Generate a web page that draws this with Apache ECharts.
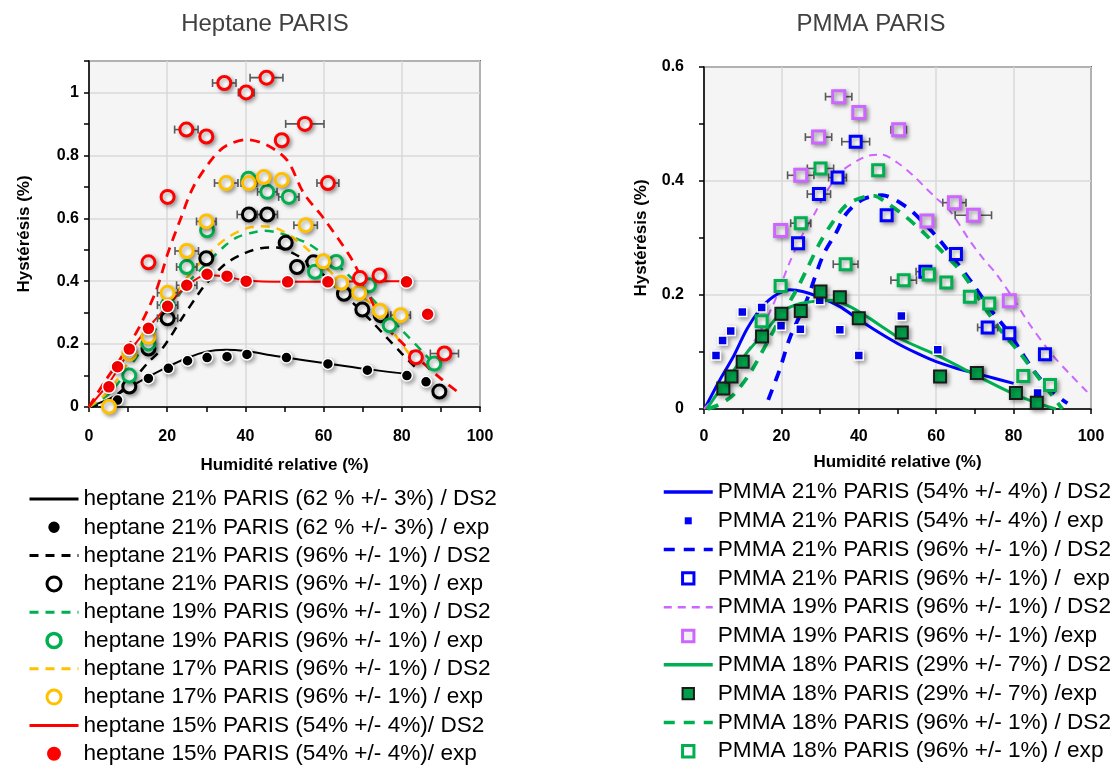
<!DOCTYPE html>
<html><head><meta charset="utf-8">
<script src="https://cdn.jsdelivr.net/npm/echarts@6/dist/echarts.min.js"></script>
<style>html,body{margin:0;padding:0;background:#fff}#c{width:1114px;height:770px}</style>
</head><body><div id="c"></div>
<script>
// ---------- Heptane PARIS (left) ----------
const hep21_62_ds2 = [[0,0],[5,0.025],[8,0.045],[10,0.06],[15,0.095],[20,0.127],[25,0.155],[30,0.176],[35,0.182],[40,0.178],[45,0.168],[50,0.158],[60,0.14],[70,0.122],[81.5,0.105]];
const hep21_62_exp = [[7.3,0.022,0],[15.2,0.091,0],[20.3,0.123,0],[25.2,0.147,0],[30.2,0.157,0],[35.3,0.16,0],[40.4,0.167,0],[50.5,0.157,0],[61.1,0.137,0],[71.2,0.117,0],[81.3,0.10,0],[86.2,0.08,0]];
const hep21_96_ds2 = [[0,0],[5,0.02],[10,0.07],[12,0.096],[15,0.14],[19,0.19],[24,0.286],[28,0.36],[30,0.393],[35,0.456],[40,0.49],[44,0.505],[48,0.507],[52,0.49],[56,0.46],[60,0.42],[64,0.37],[68,0.325],[72,0.276],[76,0.223],[80,0.17],[83.3,0.128]];
const hep21_96_exp = [[10.3,0.065,0],[15.2,0.186,0],[20.1,0.282,2.6],[30,0.473,0],[40.9,0.612,3],[45.6,0.612,2.6],[50.3,0.522,0],[53.2,0.445,0],[57.4,0.46,0],[65.2,0.36,0],[69.9,0.31,0],[74.6,0.292,0],[89.6,0.049,0]];
const hep19_96_ds2 = [[0,0],[5,0.04],[10,0.12],[15,0.21],[20,0.3],[25,0.39],[30,0.455],[35,0.515],[38,0.54],[42,0.555],[45,0.56],[49,0.552],[53,0.535],[56,0.52],[60,0.485],[65,0.435],[70,0.375],[75,0.31],[80,0.245],[85,0.18],[88,0.14]];
const hep19_96_exp = [[10.3,0.10,0],[15.2,0.202,0],[20.1,0.324,2.6],[25,0.445,2.6],[30.2,0.562,0],[40.8,0.726,0],[45.6,0.684,2.5],[51.1,0.668,2.6],[57.8,0.43,0],[63.2,0.461,0],[71.6,0.387,0],[76.9,0.26,0],[88.3,0.138,0]];
const hep17_96_ds2 = [[0,0],[5,0.05],[10,0.14],[15,0.23],[20,0.32],[25,0.41],[30,0.48],[35,0.535],[40,0.567],[44,0.575],[48,0.568],[52,0.54],[56,0.5],[60,0.45],[64,0.405],[68,0.365],[72,0.33],[76,0.27],[80,0.2],[84,0.135]];
const hep17_96_exp = [[5.1,0.001,0],[10.3,0.17,0],[15.2,0.223,0],[20.1,0.363,2.6],[25,0.496,3],[30,0.59,2.5],[35.1,0.712,3],[40.9,0.712,2],[44.7,0.731,0],[49.3,0.722,0],[55.4,0.578,3],[59.9,0.463,0],[64.5,0.395,0],[69.1,0.363,0],[74.4,0.306,0],[79.7,0.292,2.5]];
const hep15_54_ds2 = [[0,0],[5,0.075],[10,0.17],[15,0.25],[20,0.32],[25,0.385],[30,0.42],[35,0.415],[40,0.402],[50,0.398],[60,0.398],[70,0.40],[81.5,0.40]];
const hep15_54_exp = [[5.1,0.064,0],[7.3,0.128,0],[10.3,0.184,0],[15.2,0.25,0],[20.1,0.32,0],[25,0.387,2.6],[30.2,0.422,0],[35.3,0.416,0],[40.2,0.4,0],[50.8,0.398,0],[61.1,0.398,0],[81.2,0.398,0],[86.6,0.295,0]];
const hep15_96_ds2 = [[0,0],[4,0.08],[7.8,0.149],[12.9,0.255],[17.2,0.371],[20.2,0.49],[23.3,0.594],[26.7,0.70],[31.9,0.795],[35.3,0.832],[40.4,0.85],[45.6,0.832],[50.7,0.784],[54.9,0.68],[60,0.60],[66.9,0.476],[70,0.40],[75.2,0.267],[80,0.205],[85,0.145],[90,0.09],[94.4,0.047]];
const hep15_96_exp = [[15.2,0.46,0],[20.1,0.668,0],[24.9,0.882,3],[30,0.86,0],[34.6,1.03,3],[40.2,1.0,2],[45.4,1.047,4.2],[49.3,0.848,0],[55.2,0.90,4.9],[61.1,0.712,2.8],[69.3,0.41,0],[74.3,0.418,0],[83.6,0.158,0],[90.9,0.17,3.6]];

// ---------- PMMA PARIS (right) ----------
const pm21_54_ds2 = [[0.5,0.005],[4.1,0.051],[7.6,0.092],[11,0.139],[14.4,0.174],[17.9,0.197],[22.2,0.209],[25.5,0.206],[30,0.196],[35,0.18],[40,0.157],[45,0.135],[50,0.115],[55,0.098],[60,0.083],[65,0.072],[70,0.063],[75,0.054],[80,0.045]];
const pm21_54_exp = [[3.1,0.094,0],[4.8,0.12,0],[6.9,0.137,0],[9.9,0.17,0],[14.9,0.178,0],[19.9,0.146,0],[24.9,0.14,0],[29.9,0.191,0],[35.1,0.139,0],[40,0.094,0],[51,0.163,0],[60.4,0.104,0],[70.7,0.067,0],[86.2,0.028,0]];
const pm21_96_ds2 = [[16.6,0.016],[19.6,0.07],[22.2,0.125],[26.5,0.19],[30.8,0.27],[34.2,0.31],[36.8,0.343],[41.1,0.368],[46,0.375],[52.2,0.355],[57,0.325],[61.3,0.293],[65,0.26],[69.4,0.22],[74,0.175],[78.9,0.133],[82,0.1],[85.7,0.063],[90,0.03],[93.9,0.01]];
const pm21_96_exp = [[24.3,0.291,0],[29.7,0.377,3],[34.5,0.406,2.3],[39.2,0.469,3.6],[47.2,0.34,0],[57.2,0.241,2.4],[65.1,0.272,0],[73.3,0.143,2.6],[78.9,0.133,0],[88.1,0.096,0]];
const pm19_96_ds2 = [[0,0],[5,0.04],[10,0.09],[14,0.13],[18,0.185],[22,0.255],[25,0.3],[28.6,0.343],[32,0.385],[35.9,0.419],[40,0.437],[43,0.445],[46,0.446],[50,0.432],[54,0.41],[57.4,0.387],[60,0.37],[63.4,0.349],[68.6,0.296],[72,0.265],[75.4,0.238],[80,0.193],[84,0.15],[90,0.095],[95,0.058],[99,0.03]];
const pm19_96_exp = [[19.8,0.313,0],[25,0.41,3.4],[29.6,0.477,3.4],[34.8,0.548,3.4],[40,0.52,0],[50.3,0.49,2],[57.6,0.33,0],[64.7,0.362,3],[69.6,0.34,4.7],[78.9,0.19,1.5]];
const pm18_29_ds2 = [[0.7,0],[5.9,0.051],[11,0.098],[16.2,0.139],[20.4,0.172],[25,0.185],[30,0.19],[33,0.191],[37.6,0.18],[42.8,0.159],[47,0.14],[51.4,0.121],[60,0.095],[68.6,0.065],[78.9,0.03],[85,0.013],[90.9,0]];
const pm18_29_exp = [[5,0.036,0],[7.1,0.057,0],[10,0.083,0],[15,0.127,0],[20,0.167,0],[25,0.172,0],[30.1,0.206,0],[35.1,0.196,0],[40,0.159,0],[51.1,0.134,0],[61,0.057,0],[70.5,0.063,0],[80.6,0.028,0],[86,0.011,0]];
const pm18_96_ds2 = [[1,0],[4,0.008],[7.6,0.025],[11.9,0.063],[16.2,0.115],[20.4,0.168],[23.9,0.209],[26.5,0.244],[29.9,0.291],[32.5,0.32],[36.8,0.358],[41.9,0.373],[44,0.374],[47.1,0.362],[52.2,0.337],[57.4,0.305],[61,0.28],[66.8,0.238],[72.9,0.174],[77,0.135],[81.4,0.1],[87,0.05],[92.6,0]];
const pm18_96_exp = [[14.9,0.154,0],[19.8,0.216,0],[25,0.326,2.6],[30.1,0.422,3.4],[36.6,0.254,3.2],[45,0.419,0],[51.6,0.226,3.3],[58.1,0.236,0],[62.6,0.222,0],[68.7,0.197,0],[73.7,0.185,0],[82.5,0.058,0],[89.4,0.042,0]];

const leftTitle = 'Heptane PARIS', rightTitle = 'PMMA PARIS';
const yName = 'Hystérésis (%)', xName = 'Humidité relative (%)';

const leftNames = [
 'heptane 21% PARIS (62 % +/- 3%) / DS2','heptane 21% PARIS (62 % +/- 3%) / exp',
 'heptane 21% PARIS (96% +/- 1%) / DS2','heptane 21% PARIS (96% +/- 1%) / exp',
 'heptane 19% PARIS (96% +/- 1%) / DS2','heptane 19% PARIS (96% +/- 1%) / exp',
 'heptane 17% PARIS (96% +/- 1%) / DS2','heptane 17% PARIS (96% +/- 1%) / exp',
 'heptane 15% PARIS (54% +/- 4%)/ DS2','heptane 15% PARIS (54% +/- 4%)/ exp'];
const rightNames = [
 'PMMA 21% PARIS (54% +/- 4%) / DS2','PMMA 21% PARIS (54% +/- 4%) / exp',
 'PMMA 21% PARIS (96% +/- 1%) / DS2','PMMA 21% PARIS (96% +/- 1%) /  exp',
 'PMMA 19% PARIS (96% +/- 1%) / DS2','PMMA 19% PARIS (96% +/- 1%) /exp',
 'PMMA 18% PARIS (29% +/- 7%) / DS2','PMMA 18% PARIS (29% +/- 7%) /exp',
 'PMMA 18% PARIS (96% +/- 1%) / DS2','PMMA 18% PARIS (96% +/- 1%) / exp'];

const FONT = "'Liberation Sans', Arial, sans-serif";
const shadow = {shadowBlur:4, shadowColor:'rgba(0,0,0,0.35)', shadowOffsetX:2, shadowOffsetY:2};

function lineS(name, data, gi, color, width, dash){
  return {type:'line', name, data, xAxisIndex:gi, yAxisIndex: gi===0?0:2, symbol:'none', smooth:0.3,
    lineStyle:{color, width, type: dash||'solid'}, itemStyle:{color}, z:2, silent:true};
}
function scatS(name, data, gi, symbol, size, fill, border, bw){
  return {type:'scatter', name, data, xAxisIndex:gi, yAxisIndex: gi===0?0:2, symbol, symbolSize:size, symbolKeepAspect:true,
    encode:{x:0,y:1}, itemStyle:Object.assign({color:fill, borderColor:border, borderWidth:bw, opacity:1}, shadow), z:4, silent:true};
}
function errRender(params, api){
  const x=api.value(0), y=api.value(1), e=api.value(2);
  if(!e) return null;
  const a=api.coord([x-e,y]), b=api.coord([x+e,y]);
  const st={stroke:'#5a5a5a', lineWidth:1.6};
  return {type:'group', children:[
    {type:'line', shape:{x1:a[0],y1:a[1],x2:b[0],y2:b[1]}, style:st},
    {type:'line', shape:{x1:a[0],y1:a[1]-4,x2:a[0],y2:a[1]+4}, style:st},
    {type:'line', shape:{x1:b[0],y1:b[1]-4,x2:b[0],y2:b[1]+4}, style:st}]};
}
function errS(gi, arrays){
  const d=[]; arrays.forEach(a=>a.forEach(p=>{ if(p[2]>0) d.push(p); }));
  return {type:'custom', name:'err'+gi, data:d, xAxisIndex:gi, yAxisIndex: gi===0?0:2, renderItem:errRender, encode:{x:0,y:1}, z:3, silent:true};
}
const hideSym = {color:'rgba(0,0,0,0)', borderColor:'rgba(0,0,0,0)', borderWidth:0, opacity:0};
const smallSquare = 'path://M0,0M16,16M4,4L12,4L12,12L4,12Z';
const bigSquare = 'path://M0,0M16,16M1.5,1.5L14.5,1.5L14.5,14.5L1.5,14.5Z';
const smallCircle = 'path://M0,0M16,16M8,1.5A6.5,6.5,0,1,1,7.99,1.5Z';
// legend icon settings per exp entry: [icon, borderWidth]; line widths per DS2 entry
function legendData(names, iconSpec, lineW){
  return names.map((n,i)=>{
    if(i%2===0) return {name:n, itemStyle:hideSym, lineStyle:{width:lineW[i/2]}};
    const s = iconSpec[(i-1)/2] || [null,null];
    const o = {name:n};
    if(s[0]) o.icon = s[0];
    if(s[1]!=null) o.itemStyle = {borderWidth:s[1]};
    return o;
  });
}

const axLabel = {fontFamily:FONT, fontWeight:'bold', fontSize:16, color:'#000'};
const axName = {fontFamily:FONT, fontWeight:'bold', fontSize:17, color:'#000'};
const axLine = {show:true, lineStyle:{color:'#000', width:1.5}};
const tickSt = {show:true, length:5, inside:false, lineStyle:{color:'#000', width:1.5}};
const split = {show:true, lineStyle:{color:'#d9d9d9', width:1.5}};

function xAx(gi, gap, margin){
  return {type:'value', gridIndex:gi, min:0, max:100, interval:20, name:xName, nameLocation:'middle', nameGap:gap,
    nameTextStyle:axName, axisLine:axLine, axisTick:tickSt, minorTick:{show:true, splitNumber:2, length:5, lineStyle:{color:'#000', width:1.5}},
    axisLabel:Object.assign({margin}, axLabel), splitLine:split, minorSplitLine:{show:false}};
}
const legendText = {fontFamily:FONT, fontSize:22.6, color:'#000', lineHeight:24};
const legendNoShadow = {shadowBlur:0, shadowColor:'rgba(0,0,0,0)', shadowOffsetX:0, shadowOffsetY:0};

const option = {
  animation:false,
  backgroundColor:'#fff',
  title:[
    {text:leftTitle, left:260, top:7, textAlign:'center', textStyle:{fontFamily:FONT, fontWeight:'normal', fontSize:24, color:'#404040'}},
    {text:rightTitle, left:866, top:7, textAlign:'center', textStyle:{fontFamily:FONT, fontWeight:'normal', fontSize:24, color:'#404040'}}
  ],
  grid:[
    {left:89, right:634, top:61, bottom:363, show:true, backgroundColor:'#f5f5f5', borderColor:'#000', borderWidth:1.5},
    {left:704, right:23, top:67, bottom:361, show:true, backgroundColor:'#f5f5f5', borderColor:'#000', borderWidth:1.5}
  ],
  xAxis:[xAx(0,50,22), xAx(1,45,20)],
  yAxis:[
    {type:'value', gridIndex:0, min:0, max:1.1, interval:0.1, name:yName, nameLocation:'middle', nameGap:56,
      nameTextStyle:axName, axisLine:axLine, axisTick:tickSt,
      axisLabel:Object.assign({margin:10, formatter:v=>{const k=Math.round(v*10); return (k%2===0)? String(k/10):'';}}, axLabel),
      splitLine:{show:false}},
    {type:'value', gridIndex:0, min:0, max:1.1, interval:0.2, axisLine:{show:false}, axisTick:{show:false}, axisLabel:{show:false}, splitLine:split},
    {type:'value', gridIndex:1, min:0, max:0.6, interval:0.2, name:yName, nameLocation:'middle', nameGap:54,
      nameTextStyle:axName, axisLine:axLine, axisTick:tickSt,
      minorTick:{show:true, splitNumber:2, length:5, lineStyle:{color:'#000', width:1.5}},
      axisLabel:Object.assign({margin:20}, axLabel), splitLine:split}
  ],
  legend:[
    {data:legendData(leftNames, [[smallCircle,0],[null,3],[null,3.5],[null,3],[null,0]], [3,3,3,3,3]),
      orient:'vertical', left:28, top:487, height:330, padding:0, itemWidth:49, itemHeight:14, itemGap:4.3,
      textStyle:legendText, itemStyle:legendNoShadow, selectedMode:false},
    {data:legendData(rightNames, [[smallSquare,0],[bigSquare,3],[bigSquare,3],[bigSquare,2],[bigSquare,3]], [3.5,3.5,2.5,3.5,3.5]),
      orient:'vertical', left:662, top:480, height:330, padding:0, itemWidth:49, itemHeight:14, itemGap:4.8,
      textStyle:legendText, itemStyle:legendNoShadow, selectedMode:false}
  ],
  series:[
    lineS(leftNames[0], hep21_62_ds2, 0, '#000', 2),
    lineS(leftNames[2], hep21_96_ds2, 0, '#000', 2.5, [9,7]),
    lineS(leftNames[4], hep19_96_ds2, 0, '#00b050', 2.5, [9,7]),
    lineS(leftNames[6], hep17_96_ds2, 0, '#ffc000', 2.5, [9,7]),
    lineS(leftNames[8], hep15_54_ds2, 0, '#ff0000', 2),
    lineS('heptane 15% PARIS (96% +/- 1%) / DS2', hep15_96_ds2, 0, '#ff0000', 2.8, [10,7]),
    errS(0, [hep21_96_exp, hep19_96_exp, hep17_96_exp, hep15_54_exp, hep15_96_exp]),
    scatS(leftNames[1], hep21_62_exp, 0, 'circle', 11, '#000', '#fff', 1.5),
    scatS(leftNames[3], hep21_96_exp, 0, 'circle', 13, '#fff', '#000', 3),
    scatS(leftNames[5], hep19_96_exp, 0, 'circle', 13, '#fff', '#00b050', 3),
    scatS(leftNames[7], hep17_96_exp, 0, 'circle', 13, '#fff', '#ffc000', 3),
    scatS(leftNames[9], hep15_54_exp, 0, 'circle', 13, '#ff0000', '#fff', 1.5),
    scatS('heptane 15% PARIS (96% +/- 1%) / exp', hep15_96_exp, 0, 'circle', 13, '#fff', '#ff0000', 3),
    lineS(rightNames[0], pm21_54_ds2, 1, '#0000ff', 3),
    lineS(rightNames[2], pm21_96_ds2, 1, '#0000ff', 3.8, [11,9]),
    lineS(rightNames[4], pm19_96_ds2, 1, '#cc66ff', 2, [8,6]),
    lineS(rightNames[6], pm18_29_ds2, 1, '#00b050', 3),
    lineS(rightNames[8], pm18_96_ds2, 1, '#00b050', 3.8, [11,9]),
    errS(1, [pm21_96_exp, pm19_96_exp, pm18_96_exp]),
    scatS(rightNames[5], pm19_96_exp, 1, 'rect', 12, '#f2f2f2', '#cc66ff', 3),
    scatS(rightNames[3], pm21_96_exp, 1, 'rect', 11, '#fff', '#0000ff', 3),
    scatS(rightNames[1], pm21_54_exp, 1, 'rect', 9, '#0000ff', '#fff', 1.5),
    scatS(rightNames[7], pm18_29_exp, 1, 'rect', 12, '#00a04a', '#1a1a1a', 2),
    scatS(rightNames[9], pm18_96_exp, 1, 'rect', 11, '#fff', '#00b050', 3)
  ]
};
const chart = echarts.init(document.getElementById('c'), null, {renderer:'canvas'});
chart.setOption(option);
</script></body></html>
